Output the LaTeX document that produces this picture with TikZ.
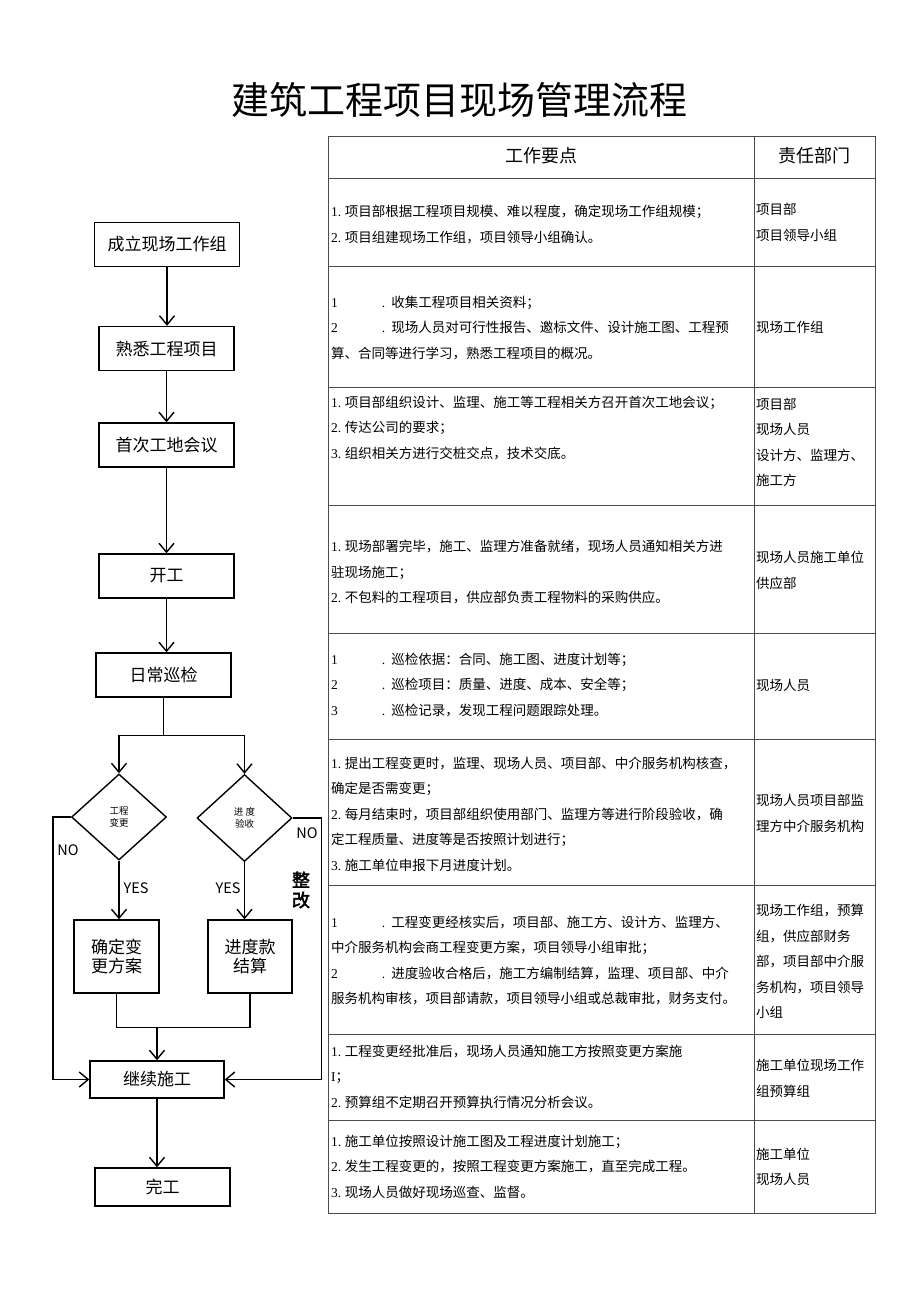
\documentclass[tikz,border=0pt]{standalone}
\usepackage{fontspec}
\setmainfont{Noto Sans CJK SC}[AutoFakeBold=2.5]
\newfontfamily\numfont{Liberation Serif}
\usepackage{tikz}
\usetikzlibrary{positioning,arrows.meta,shapes.geometric}

\newcommand\itm[1]{{\numfont #1.}\hspace{3.5pt}}
\newcommand\gitm[1]{{\numfont #1}\hspace{44pt}{\numfont .}\hspace{6pt}}

\begin{document}
\begin{tikzpicture}[x=1pt,y=-1pt,
    box/.style={draw,line width=1.4pt,minimum width=135pt,minimum height=44pt,inner sep=2pt,font=\fontsize{17}{19.5}\selectfont},
    dia/.style={draw,diamond,line width=1.4pt,inner sep=0pt,align=center,font=\fontsize{9.5}{12}\selectfont},
    arr/.style={-{Straight Barb[length=9pt,width=15pt]},line width=1.4pt},
    ln/.style={line width=1.4pt},
    lbl/.style={font=\fontsize{14.5}{16}\selectfont},
    tab/.style={line width=0.9pt,draw=black!70},
    cell/.style={anchor=west,align=left,inner sep=0pt,font=\fontsize{13.5}{25.5}\selectfont},
    head/.style={font=\fontsize{18}{20}\selectfont}
  ]
    \useasboundingbox (0,0) rectangle (920,1301);
    \node[font=\fontsize{38}{40}\selectfont] (title) at (459,100) {建筑工程项目现场管理流程};

    % flow
    \node[box,minimum width=145pt] (s1) at (167,244.5) {成立现场工作组};
    \node[box] (s2) at (166.5,348.5) {熟悉工程项目};
    \node[box] (s3) at (166.5,445) {首次工地会议};
    \node[box] (s4) at (166.5,576) {开工};
    \node[box] (s5) at (163.5,675) {日常巡检};
    \node[dia,minimum width=95pt,minimum height=86pt] (d1) at (119,817) {工程\\变更};
    \node[dia,minimum width=95pt,minimum height=87pt] (d2) at (244.5,818) {进 度\\验收};
    \node[box,minimum width=85pt,minimum height=73pt,align=center] (c1) at (116.5,956.5) {确定变\\更方案};
    \node[box,minimum width=84pt,minimum height=73pt,align=center] (c2) at (250,956.5) {进度款\\结算};
    \node[box,minimum width=134pt,minimum height=37pt] (s6) at (157,1079.5) {继续施工};
    \node[box,minimum height=38pt] (s7) at (162.5,1187) {完工};

    \draw[arr] (s1.south) -- (s1.south |- s2.north);
    \draw[arr] (s2) -- (s3);
    \draw[arr] (s3) -- (s4);
    \draw[arr] (s4.south) -- (s4.south |- s5.north);
    \draw[ln] (s5.south) -- ++(0,38) coordinate (sp);
    \draw[arr] (sp) -| (d1.north);
    \draw[arr] (sp) -| (d2.north);
    \draw[arr] (d1.west) -- ++(-18,0) |- (s6.west);
    \draw[arr] (d2.east) -- ++(29,0) |- (s6.east);
    \draw[arr] (d1.south) -- (d1.south |- c1.north);
    \draw[arr] (d2.south) -- (d2.south |- c2.north);
    \draw[ln] (c1.south) -- ++(0,34) coordinate (mg) -| (c2.south);
    \draw[arr] (mg -| s6.north) -- (s6.north);
    \draw[arr] (s6.south) -- (s6.south |- s7.north);

    \node[lbl] (no1) at (68,850) {NO};
    \node[lbl] (no2) at (307,833) {NO};
    \node[lbl] (yes1) at (136,888) {YES};
    \node[lbl] (yes2) at (228,888) {YES};
    \node[font=\fontsize{18}{20}\selectfont\bfseries,align=center] (fix) at (301,890) {整\\改};

    % table
    \draw[tab] (328,136) rectangle (875,1213);
    \draw[tab] (754,136) -- (754,1213);
    \foreach \y in {178,266,387,505,633,739,885,1034,1120}
      \draw[tab] (328,\y) -- (875,\y);
    \node[head] (h1) at (541,156) {工作要点};
    \node[head] (h2) at (814,156) {责任部门};

    \node[cell] (l1) at (331,224.5) {\itm{1}项目部根据工程项目规模、难以程度，确定现场工作组规模；\\ \itm{2}项目组建现场工作组，项目领导小组确认。};
    \node[cell] (r1) at (756,222.5) {项目部\\项目领导小组};
    \node[cell] (l2) at (331,328) {\gitm{1}收集工程项目相关资料；\\ \gitm{2}现场人员对可行性报告、邀标文件、设计施工图、工程预\\算、合同等进行学习，熟悉工程项目的概况。};
    \node[cell] (r2) at (756,327) {现场工作组};
    \node[cell] (l3) at (331,428) {\itm{1}项目部组织设计、监理、施工等工程相关方召开首次工地会议；\\ \itm{2}传达公司的要求；\\ \itm{3}组织相关方进行交桩交点，技术交底。};
    \node[cell] (r3) at (756,442.5) {项目部\\现场人员\\设计方、监理方、\\施工方};
    \node[cell] (l4) at (331,572) {\itm{1}现场部署完毕，施工、监理方准备就绪，现场人员通知相关方进\\驻现场施工；\\ \itm{2}不包料的工程项目，供应部负责工程物料的采购供应。};
    \node[cell] (r4) at (756,570.5) {现场人员施工单位\\供应部};
    \node[cell] (l5) at (331,684.5) {\gitm{1}巡检依据：合同、施工图、进度计划等；\\ \gitm{2}巡检项目：质量、进度、成本、安全等；\\ \gitm{3}巡检记录，发现工程问题跟踪处理。};
    \node[cell] (r5) at (756,685) {现场人员};
    \node[cell] (l6) at (331,814) {\itm{1}提出工程变更时，监理、现场人员、项目部、中介服务机构核查，\\确定是否需变更；\\ \itm{2}每月结束时，项目部组织使用部门、监理方等进行阶段验收，确\\定工程质量、进度等是否按照计划进行；\\ \itm{3}施工单位申报下月进度计划。};
    \node[cell] (r6) at (756,813.5) {现场人员项目部监\\理方中介服务机构};
    \node[cell] (l7) at (331,960.5) {\gitm{1}工程变更经核实后，项目部、施工方、设计方、监理方、\\中介服务机构会商工程变更方案，项目领导小组审批；\\ \gitm{2}进度验收合格后，施工方编制结算，监理、项目部、中介\\服务机构审核，项目部请款，项目领导小组或总裁审批，财务支付。};
    \node[cell] (r7) at (756,961.5) {现场工作组，预算\\组，供应部财务\\部，项目部中介服\\务机构，项目领导\\小组};
    \node[cell] (l8) at (331,1076.5) {\itm{1}工程变更经批准后，现场人员通知施工方按照变更方案施\\{\numfont I}；\\ \itm{2}预算组不定期召开预算执行情况分析会议。};
    \node[cell] (r8) at (756,1078.5) {施工单位现场工作\\组预算组};
    \node[cell] (l9) at (331,1166.5) {\itm{1}施工单位按照设计施工图及工程进度计划施工；\\ \itm{2}发生工程变更的，按照工程变更方案施工，直至完成工程。\\ \itm{3}现场人员做好现场巡查、监督。};
    \node[cell] (r9) at (756,1167) {施工单位\\现场人员};
  \end{tikzpicture}
\end{document}
